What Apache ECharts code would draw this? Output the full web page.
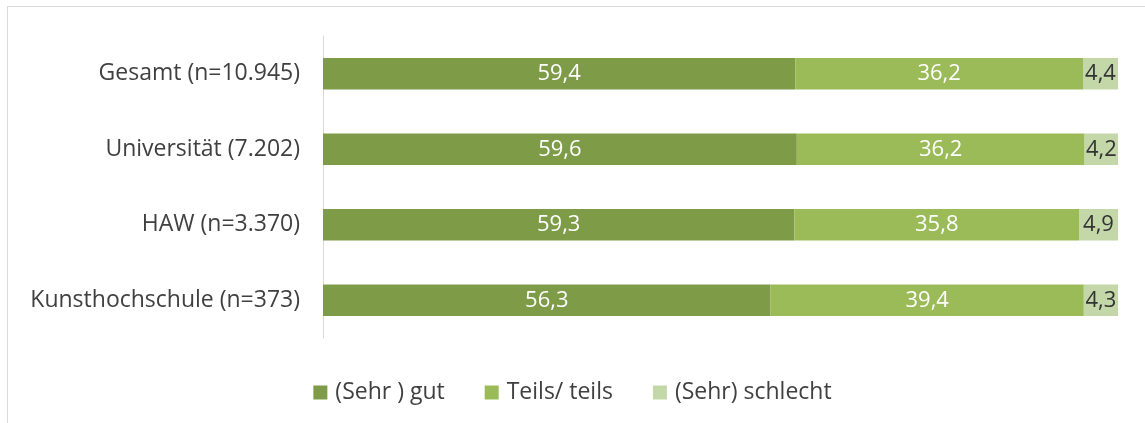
<!DOCTYPE html>
<html>
<head>
<meta charset="utf-8">
<script src="https://cdn.jsdelivr.net/npm/echarts@6/dist/echarts.min.js"></script>
<style>
  html, body { margin: 0; padding: 0; background: #fff; }
  #frame { position: absolute; left: 7px; top: 6px; width: 1200px; height: 500px;
           border-left: 1px solid #d9d9d9; border-top: 1px solid #d9d9d9; }
  #chart { position: absolute; left: 0; top: 0; width: 1145px; height: 423px; }
</style>
</head>
<body>
<div id="frame"></div>
<div id="chart"></div>
<script>
var categories = ['Gesamt (n=10.945)', 'Universität (7.202)', 'HAW (n=3.370)', 'Kunsthochschule (n=373)']
var gut = [59.4, 59.6, 59.3, 56.3]
var teils = [36.2, 36.2, 35.8, 39.4]
var schlecht = [4.4, 4.2, 4.9, 4.3]
var seriesNames = ['(Sehr ) gut', 'Teils/ teils', '(Sehr) schlecht']

var chart = echarts.init(document.getElementById('chart'))

var fontFamily = 'Open Sans, Noto Sans, sans-serif'

function fmt(p) {
  return p.value.toFixed(1).replace('.', ',')
}

function makeSeries(name, data, color, textColor) {
  return {
    name: name,
    type: 'bar',
    stack: 'total',
    barWidth: '42%',
    itemStyle: { color: color },
    label: {
      show: true,
      position: 'inside',
      color: textColor,
      fontFamily: fontFamily,
      fontSize: 22,
      formatter: fmt
    },
    data: data
  }
}

chart.setOption({
  animation: false,
  legend: {
    top: 376,
    left: 'center',
    itemWidth: 14,
    itemHeight: 14,
    itemGap: 40,
    icon: 'rect',
    textStyle: { fontFamily: fontFamily, fontSize: 23, color: '#404040', padding: [0, 0, 0, 3] },
    data: seriesNames
  },
  grid: {
    left: 323,
    right: 27,
    top: 36,
    height: 302
  },
  xAxis: {
    type: 'value',
    min: 0,
    max: 100,
    show: false
  },
  yAxis: {
    type: 'category',
    inverse: true,
    data: categories,
    axisTick: { show: false },
    axisLine: { lineStyle: { color: '#d9d9d9', width: 1 } },
    axisLabel: { margin: 23, fontFamily: fontFamily, fontSize: 23, color: '#404040' }
  },
  series: [
    makeSeries(seriesNames[0], gut, '#7e9b48', '#ffffff'),
    makeSeries(seriesNames[1], teils, '#9bbb59', '#ffffff'),
    makeSeries(seriesNames[2], schlecht, '#c4d7a9', '#333333')
  ]
})
</script>
</body>
</html>
